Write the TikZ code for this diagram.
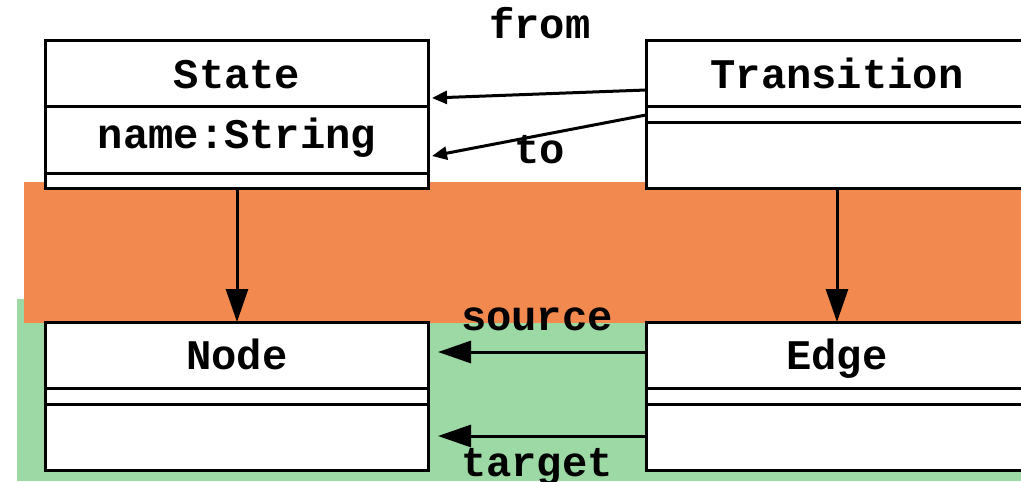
\documentclass[tikz,border=0pt]{standalone}
\usepackage{fontspec}
\setmonofont{Liberation Mono}
\usetikzlibrary{arrows.meta, positioning}

\definecolor{bandorange}{HTML}{F2894E}
\definecolor{bandgreen}{HTML}{9DD9A5}

\begin{document}
\begin{tikzpicture}[
        every node/.style={font=\ttfamily\bfseries\fontsize{12pt}{14pt}\selectfont},
        classbox/.style={draw, fill=white, line width=0.03cm, minimum width=3.82cm,
            minimum height=1.48cm, inner sep=0pt, outer sep=0pt},
        classtext/.style={anchor=base, inner sep=0pt},
        divider/.style={line width=0.03cm},
        assoc/.style={line width=0.03cm, -{Triangle[length=0.33cm, width=0.22cm]}},
        roleline/.style={line width=0.03cm, -{Triangle[length=0.15cm, width=0.13cm]}},
        rolename/.style={anchor=base, inner sep=0pt}
    ]
        \useasboundingbox (0,0) rectangle (10.21,4.81);

        % Nền hai tầng
        \fill[bandgreen] (0.17,0) rectangle (10.21,1.82);
        \fill[bandorange] (0.24,1.58) rectangle (10.21,2.99);

        % Các lớp
        \node[classbox] (state) at (2.37,3.67) {};
        \node[classbox, right=2.18cm of state] (trans) {};
        \node[classbox, below=1.34cm of state] (gnode) {};
        \node[classbox, below=1.34cm of trans] (gedge) {};

        % Tên lớp và thuộc tính
        \node[classtext] (statename) at ([yshift=-0.48cm]state.north) {State};
        \node[classtext] (stateattr) at ([yshift=-1.08cm]state.north) {name:String};
        \node[classtext] (transname) at ([yshift=-0.48cm]trans.north) {Transition};
        \node[classtext] (nodename) at ([yshift=-0.47cm]gnode.north) {Node};
        \node[classtext] (edgename) at ([yshift=-0.47cm]gedge.north) {Edge};

        % Các ngăn
        \draw[divider] ([yshift=-0.66cm]state.north west) -- ([yshift=-0.66cm]state.north east)
            ([yshift=-1.33cm]state.north west) -- ([yshift=-1.33cm]state.north east);
        \draw[divider] ([yshift=-0.66cm]trans.north west) -- ([yshift=-0.66cm]trans.north east)
            ([yshift=-0.82cm]trans.north west) -- ([yshift=-0.82cm]trans.north east);
        \draw[divider] ([yshift=-0.66cm]gnode.north west) -- ([yshift=-0.66cm]gnode.north east)
            ([yshift=-0.82cm]gnode.north west) -- ([yshift=-0.82cm]gnode.north east);
        \draw[divider] ([yshift=-0.66cm]gedge.north west) -- ([yshift=-0.66cm]gedge.north east)
            ([yshift=-0.82cm]gedge.north west) -- ([yshift=-0.82cm]gedge.north east);

        % Liên kết
        \draw[assoc] (state.south) -- (gnode.north);
        \draw[assoc] (trans.south) -- (gedge.north);
        \draw[assoc] ([yshift=-0.30cm]gedge.north west) -- ([xshift=0.10cm, yshift=-0.30cm]gnode.north east);
        \draw[assoc] ([yshift=-1.14cm]gedge.north west) -- ([xshift=0.10cm, yshift=-1.14cm]gnode.north east);
        \draw[roleline] ([yshift=-0.50cm]trans.north west) -- ([xshift=0.04cm, yshift=-0.58cm]state.north east);
        \draw[roleline] ([yshift=-0.75cm]trans.north west) -- ([xshift=0.04cm, yshift=-1.16cm]state.north east);

        % Tên vai trò
        \node[rolename] (from) at (5.40,4.43) {from};
        \node[rolename] (to) at (5.40,3.18) {to};
        \node[rolename] (source) at (5.37,1.51) {source};
        \node[rolename] (target) at (5.37,0.05) {target};
    \end{tikzpicture}
\end{document}
